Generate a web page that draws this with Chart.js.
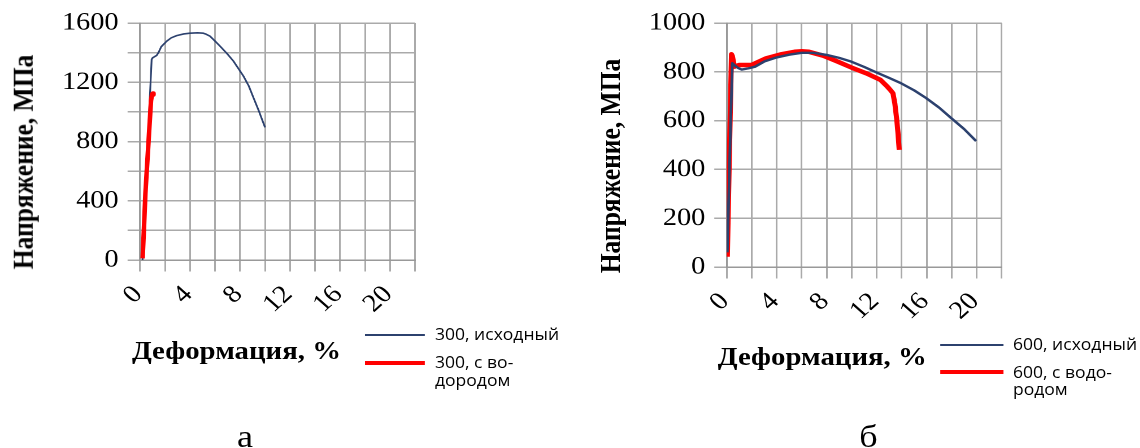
<!DOCTYPE html>
<html lang="ru">
<head>
<meta charset="utf-8">
<title>Напряжение — деформация</title>
<script src="https://cdn.jsdelivr.net/npm/chart.js@4"></script>
<style>
  html, body { margin: 0; padding: 0; background: #fff; overflow: hidden; }
  body { width: 1140px; height: 448px; position: relative; }
  #stage { position: absolute; left: 0; top: 0; width: 1009px; height: 448px;
           transform: scaleX(1.13); transform-origin: 0 0; }
  canvas { position: absolute; }
  .ov { position: absolute; white-space: nowrap; color: #000; }
  .serifB { font-family: "Liberation Serif", "Times New Roman", serif; font-weight: bold; font-size: 25.5px; line-height: 30px; }
  .cap { font-family: "Liberation Serif", "Times New Roman", serif; font-size: 32px; line-height: 38px; }
  .leg { font-family: "Open Sans", "Noto Sans", sans-serif; font-size: 15.5px; line-height: 17.5px; }
  .ctr { transform: translate(-50%, -50%); }
  .rot { transform: translate(-50%, -50%) rotate(-90deg); }
  .swatch { position: absolute; }
</style>
</head>
<body>
<div id="stage"></div>
<script>
// ---------------- data ----------------
const strain300Orig = [0.20, 0.50, 0.80, 0.93, 1.01, 1.33, 1.47, 1.70, 2.13, 2.50, 2.93, 3.50, 4.00, 4.60, 5.07, 5.30, 5.60, 6.00, 6.40, 7.00, 7.47, 8.27, 8.70, 9.07, 9.50, 10.00];
const stress300Orig = [0, 560, 1119, 1354, 1365, 1381, 1399, 1440, 1477, 1500, 1515, 1526, 1531, 1534, 1531, 1524, 1511, 1478, 1444, 1390, 1343, 1242, 1175, 1097, 1008, 895];

const strain300H = [0.21, 0.32, 0.43, 0.59, 0.75, 0.88, 0.96, 1.02, 1.08];
const stress300H = [11, 224, 448, 671, 895, 1074, 1120, 1125, 1115];

const strain600Orig = [0.05, 0.30, 0.45, 0.60, 0.90, 1.20, 1.73, 2.27, 3.00, 4.00, 5.00, 6.00, 6.93, 8.00, 9.00, 10.00, 11.00, 12.00, 13.00, 13.87, 15.00, 15.94, 17.00, 17.94, 19.00, 19.95];
const stress600Orig = [60, 560, 835, 828, 816, 809, 814, 821, 842, 859, 870, 878, 878, 869, 857, 841, 820, 797, 775, 755, 724, 693, 653, 611, 565, 516];

const strain600H = [0.05, 0.20, 0.38, 0.45, 0.62, 1.00, 2.00, 2.29, 3.14, 4.29, 5.43, 6.00, 6.58, 7.72, 8.87, 10.00, 11.16, 12.30, 12.80, 13.10, 13.30, 13.45, 13.60, 13.70, 13.80];
const stress600H = [42, 420, 872, 865, 821, 828, 828, 835, 855, 871, 882, 884, 882, 866, 842, 817, 794, 767, 742, 725, 712, 670, 605, 550, 480];

const xGridValues = [0, 2, 4, 6, 8, 10, 12, 14, 16, 18, 20, 22];
const xTickLabels = [0, 4, 8, 12, 16, 20];
const yGridValuesLeft = [0, 200, 400, 600, 800, 1000, 1200, 1400, 1600];
const yTickLabelsLeft = [0, 400, 800, 1200, 1600];
const yGridValuesRight = [0, 200, 400, 600, 800, 1000];
const yTickLabelsRight = [0, 200, 400, 600, 800, 1000];

const seriesNames300 = ['300, исходный', '300, с во-\nдородом'];
const seriesNames600 = ['600, исходный', '600, с водо-\nродом'];
const axisTitleY = 'Напряжение, МПа';
const axisTitleX = 'Деформация, %';
const captions = ['а', 'б'];

// ---------------- styling / layout ----------------
const S = 1.13;              // horizontal stretch of the whole figure
const BLUE = '#2c416e';
const RED = '#ff0000';
const GRID = '#aaaaaa';
const stage = document.getElementById('stage');

function pts(xs, ys) { return xs.map((x, i) => ({ x: x, y: ys[i] })); }

const tickFont = { family: '"Liberation Serif", "Times New Roman", serif', size: 25, lineHeight: 1.2 };

function makeChart(cfg) {
  const cv = document.createElement('canvas');
  const L = cfg.canvasLeft, W = cfg.canvasWidth, H = cfg.canvasHeight;
  cv.width = W; cv.height = H;
  cv.style.left = L + 'px'; cv.style.top = '0px';
  cv.style.width = W + 'px'; cv.style.height = H + 'px';
  stage.appendChild(cv);
  const areaL = cfg.areaLeftRef / S, areaR = cfg.areaRightRef / S;
  const yWidth = areaL - L;
  const padRight = (L + W) - areaR;
  const xHeight = H - cfg.areaBottom;
  return new Chart(cv, {
    type: 'scatter',
    data: { datasets: cfg.datasets },
    options: {
      responsive: false,
      animation: false,
      devicePixelRatio: 2,
      layout: { padding: { left: 0, top: cfg.areaTop, right: padRight, bottom: 0 }, autoPadding: false },
      plugins: { legend: { display: false }, tooltip: { enabled: false } },
      elements: { point: { radius: 0, hoverRadius: 0 }, line: { tension: 0, borderJoinStyle: 'round' } },
      scales: {
        x: {
          type: 'linear', min: 0, max: 22,
          afterFit: s => { s.height = xHeight; },
          afterBuildTicks: s => { s.ticks = xGridValues.map(v => ({ value: v })); },
          grid: { color: GRID, lineWidth: 1.5, tickLength: 11.5, tickColor: GRID, drawTicks: true },
          border: { color: '#999999', width: 1.5 },
          ticks: {
            stepSize: 2, maxTicksLimit: 100, autoSkip: false,
            minRotation: 45, maxRotation: 45,
            padding: 8.5, labelOffset: -1.6,
            color: '#000', font: tickFont,
            callback: v => xTickLabels.includes(v) ? String(v) : ''
          }
        },
        y: {
          type: 'linear', min: 0, max: cfg.yMax,
          afterFit: s => { s.width = yWidth; },
          afterBuildTicks: s => { s.ticks = cfg.yGrid.map(v => ({ value: v })); },
          grid: { color: GRID, lineWidth: 1.5, tickLength: 11, tickColor: GRID, drawTicks: true },
          border: { color: '#999999', width: 1.5 },
          ticks: {
            stepSize: 200, maxTicksLimit: 100, autoSkip: false,
            padding: 8, color: '#000', font: tickFont,
            callback: v => cfg.yLabels.includes(v) ? String(v) : ''
          }
        }
      }
    }
  });
}

makeChart({
  canvasLeft: 0, canvasWidth: 400, canvasHeight: 330,
  areaLeftRef: 140, areaRightRef: 415, areaTop: 22, areaBottom: 260,
  yMax: 1600, yLabels: yTickLabelsLeft, yGrid: yGridValuesLeft,
  datasets: [
    { label: seriesNames300[1], data: pts(strain300H, stress300H), showLine: true, borderColor: RED, backgroundColor: RED, borderWidth: 4 },
    { label: seriesNames300[0], data: pts(strain300Orig, stress300Orig), showLine: true, borderColor: BLUE, backgroundColor: BLUE, borderWidth: 1.6 }
  ]
});

makeChart({
  canvasLeft: 560, canvasWidth: 370, canvasHeight: 330,
  areaLeftRef: 726.7, areaRightRef: 1001.7, areaTop: 21, areaBottom: 267,
  yMax: 1000, yLabels: yTickLabelsRight, yGrid: yGridValuesRight,
  datasets: [
    { label: seriesNames600[0], data: pts(strain600Orig, stress600Orig), showLine: true, borderColor: BLUE, backgroundColor: BLUE, borderWidth: 2.4 },
    { label: seriesNames600[1], data: pts(strain600H, stress600H), showLine: true, borderColor: RED, backgroundColor: RED, borderWidth: 4.5 }
  ]
});

// ---------------- text overlays (titles, legends, captions) ----------------
function addText(text, cls, xRef, y, extra) {
  const d = document.createElement('div');
  d.className = 'ov ' + cls;
  d.style.left = (xRef / S) + 'px';
  d.style.top = y + 'px';
  if (extra) Object.assign(d.style, extra);
  d.innerHTML = text.split('\n').join('<br>');
  stage.appendChild(d);
  return d;
}
function addSwatch(xRef0, xRef1, y, h, color) {
  const d = document.createElement('div');
  d.className = 'swatch';
  d.style.left = (xRef0 / S) + 'px';
  d.style.width = ((xRef1 - xRef0) / S) + 'px';
  d.style.top = (y - h / 2) + 'px';
  d.style.height = h + 'px';
  d.style.background = color;
  stage.appendChild(d);
}

// axis titles
addText(axisTitleY, 'serifB rot', 24, 162);
addText(axisTitleY, 'serifB rot', 611, 166);
addText(axisTitleX, 'serifB ctr', 236.5, 350.5);
addText(axisTitleX, 'serifB ctr', 822.3, 356.5);

// legends
addSwatch(365, 425, 335, 2.6, BLUE);
addSwatch(365, 425, 363, 4.5, RED);
addText(seriesNames300[0], 'leg', 435, 335 - 8.75);
addText(seriesNames300[1], 'leg', 435, 363 - 8.75);

addSwatch(940, 1003, 345, 2.6, BLUE);
addSwatch(940, 1003, 372, 4.5, RED);
addText(seriesNames600[0], 'leg', 1013, 345 - 8.75);
addText(seriesNames600[1], 'leg', 1013, 372.5 - 8.75);

// captions
addText(captions[0], 'cap ctr', 245, 436);
addText(captions[1], 'cap ctr', 868.5, 436);
</script>
</body>
</html>
